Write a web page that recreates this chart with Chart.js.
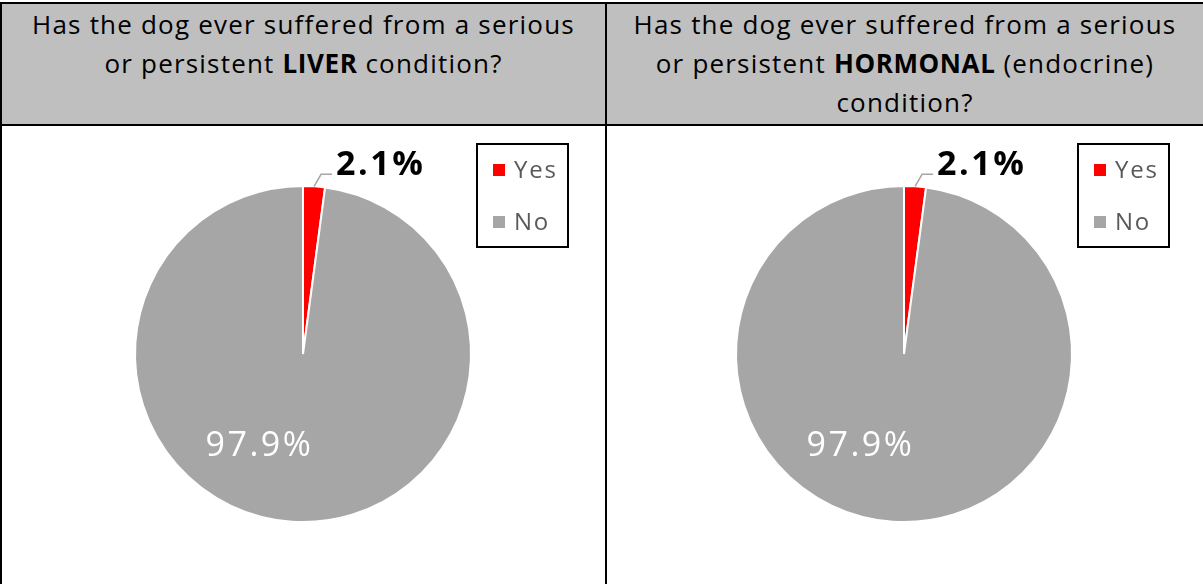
<!DOCTYPE html>
<html>
<head>
<meta charset="utf-8">
<script src="https://cdn.jsdelivr.net/npm/chart.js@4.4.1/dist/chart.umd.min.js"></script>
<style>
  html, body { margin: 0; padding: 0; background: #fff; width: 1203px; height: 584px; overflow: hidden; }
  body { position: relative; font-family: "Open Sans", Lato, sans-serif; }
  .head { position: absolute; top: 4px; height: 120px; background: #bfbfbf; color: #000;
          font-size: 26px; line-height: 39px; letter-spacing: 1.2px; text-align: center;
          box-sizing: border-box; padding-top: 1px; }
  .head b { font-weight: 700; letter-spacing: 0.6px; }
  .rule { position: absolute; background: #000; }
  .cell { position: absolute; top: 126px; height: 458px; }
</style>
</head>
<body>
<div class="head" style="left:2px;width:603px;">Has the dog ever suffered from a serious<br>or persistent <b>LIVER</b> condition?</div>
<div class="head" style="left:607px;width:596px;">Has the dog ever suffered from a serious<br>or persistent <b>HORMONAL</b> (endocrine)<br>condition?</div>

<div class="rule" style="left:0;top:2px;width:1203px;height:2px;"></div>
<div class="rule" style="left:0;top:124px;width:1203px;height:2px;"></div>
<div class="rule" style="left:0;top:2px;width:2px;height:582px;"></div>
<div class="rule" style="left:605px;top:2px;width:2px;height:582px;"></div>

<div class="cell" style="left:2px;width:603px;"><canvas id="liver" width="603" height="458"></canvas></div>
<div class="cell" style="left:607px;width:596px;"><canvas id="hormonal" width="596" height="458"></canvas></div>

<script>
// Answer categories and the share of dogs for each question (percent)
const categories = ['Yes', 'No'];
const liverValues = [2.1, 97.9];
const hormonalValues = [2.1, 97.9];
const sliceColors = ['#ff0000', '#a6a6a6'];

const FONT = '"Open Sans", Lato, sans-serif';

// Percentage labels: the small slice gets an outside label with a leader line,
// the large slice a white label inside the pie.
const sliceLabels = {
  id: 'sliceLabels',
  afterDatasetsDraw(chart) {
    const ctx = chart.ctx;
    const meta = chart.getDatasetMeta(0);
    const values = chart.data.datasets[0].data;
    ctx.save();
    meta.data.forEach((arc, i) => {
      const p = arc.getProps(['x', 'y', 'startAngle', 'endAngle', 'outerRadius'], true);
      const mid = (p.startAngle + p.endAngle) / 2;
      const r = p.outerRadius;
      const text = values[i].toFixed(1) + '%';
      if (i === 0) {
        const ex = p.x + Math.cos(mid) * r;
        const ey = p.y + Math.sin(mid) * r;
        const kx = ex + 7, ky = ey - 12;
        ctx.strokeStyle = '#a6a6a6';
        ctx.lineWidth = 1.5;
        ctx.beginPath();
        ctx.moveTo(ex, ey);
        ctx.lineTo(kx, ky);
        ctx.lineTo(kx + 11, ky);
        ctx.stroke();
        ctx.fillStyle = '#000';
        ctx.font = 'bold 34px ' + FONT;
        ctx.letterSpacing = '2.5px';
        ctx.textAlign = 'left';
        ctx.textBaseline = 'alphabetic';
        ctx.fillText(text, kx + 15, ky + 1);
      } else {
        ctx.fillStyle = '#ffffff';
        ctx.font = '34px ' + FONT;
        ctx.letterSpacing = '2.5px';
        ctx.textAlign = 'center';
        ctx.textBaseline = 'alphabetic';
        ctx.fillText(text, p.x - 0.265 * r + 1, p.y + 0.61 * r);
      }
    });
    ctx.restore();
  }
};

// Boxed legend to the upper right of the pie
const boxedLegend = {
  id: 'boxedLegend',
  afterDraw(chart) {
    const ctx = chart.ctx;
    const arc = chart.getDatasetMeta(0).data[0];
    const bx = arc.x + 173, by = arc.y - 211;
    ctx.save();
    ctx.strokeStyle = '#000';
    ctx.lineWidth = 2;
    ctx.strokeRect(bx + 1, by + 1, 91, 103);
    ctx.font = '24px ' + FONT;
    ctx.letterSpacing = '1.8px';
    ctx.textAlign = 'left';
    ctx.textBaseline = 'middle';
    chart.data.labels.forEach((label, i) => {
      const rowY = by + 27 + i * 52;
      ctx.fillStyle = chart.data.datasets[0].backgroundColor[i];
      ctx.fillRect(bx + 17, rowY - 6, 12, 12);
      ctx.fillStyle = '#595959';
      ctx.fillText(label, bx + 38, rowY + 1);
    });
    ctx.restore();
  }
};

function makePie(id, values, pad) {
  return new Chart(document.getElementById(id), {
    type: 'pie',
    data: {
      labels: categories,
      datasets: [{
        data: values,
        backgroundColor: sliceColors,
        borderColor: '#ffffff',
        borderWidth: 2,
        hoverOffset: 0
      }]
    },
    options: {
      responsive: false,
      animation: false,
      events: [],
      layout: { padding: pad },
      plugins: { legend: { display: false }, tooltip: { enabled: false } }
    },
    plugins: [sliceLabels, boxedLegend]
  });
}

makePie('liver', liverValues, { left: 132, top: 59, right: 133, bottom: 61 });
makePie('hormonal', hormonalValues, { left: 128, top: 59, right: 130, bottom: 61 });
</script>
</body>
</html>
